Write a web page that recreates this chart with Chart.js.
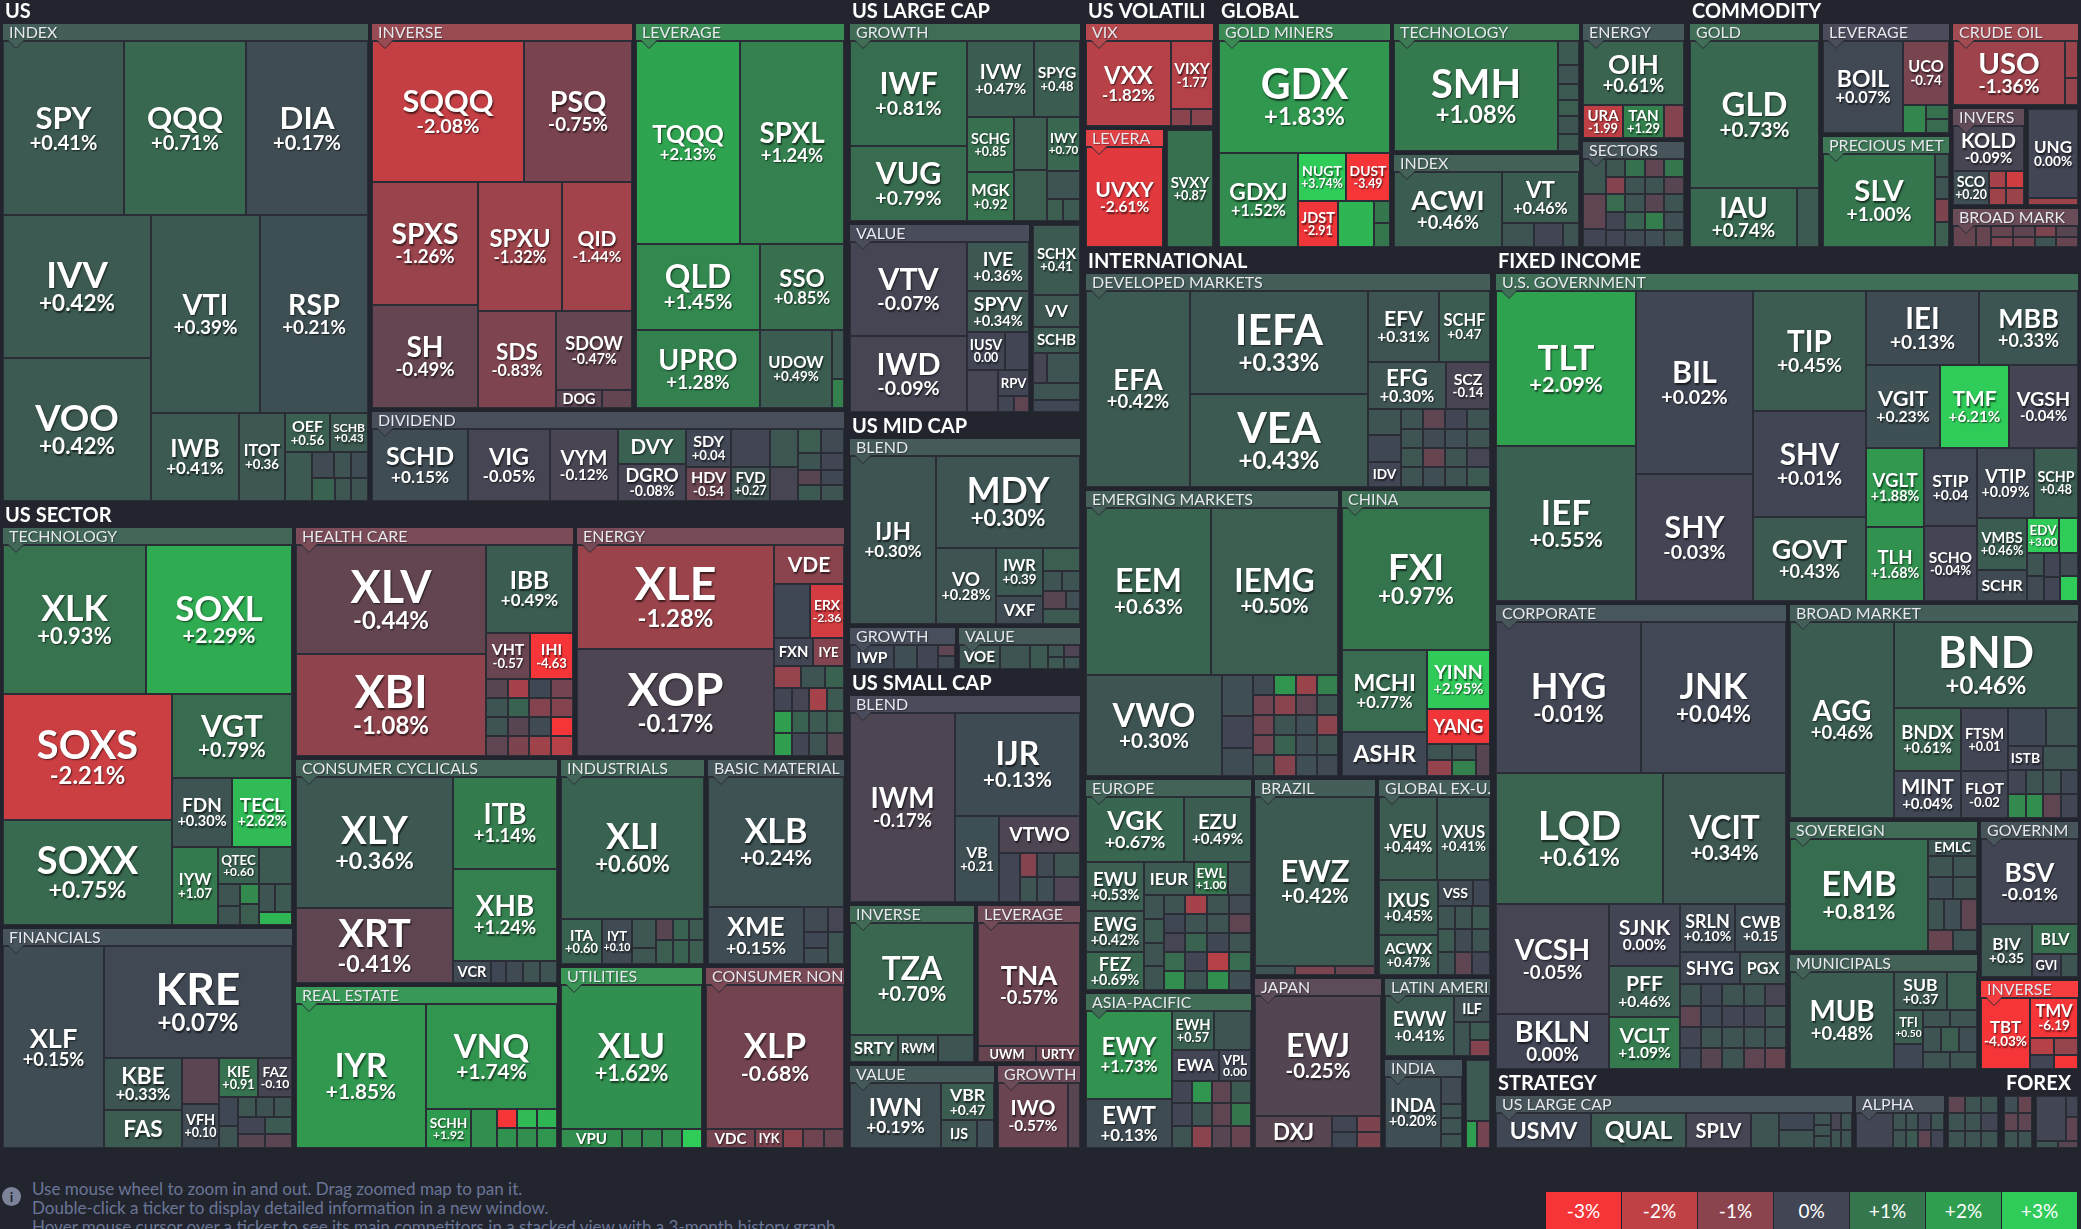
<!DOCTYPE html>
<html>
<head>
<meta charset="utf-8">
<title>ETF map</title>
<script src="https://cdn.jsdelivr.net/npm/chart.js@4.4.0/dist/chart.umd.min.js"></script>
<style>
  html, body { margin: 0; padding: 0; background: #22252e; }
  body { width: 2081px; height: 1229px; overflow: hidden; position: relative; font-family: Lato, "Noto Sans", sans-serif; }
  #map { position: absolute; left: 0; top: 0; }
  #info { position: absolute; left: 32px; top: 1179px; color: #6b7597; font-size: 17px; line-height: 19px; white-space: nowrap; }
  #icon { position: absolute; left: 2px; top: 1187px; width: 19px; height: 19px; border-radius: 50%; background: #7d8499; color: #22252e; font: bold 14px Lato; text-align: center; line-height: 19px; }
  #legend { position: absolute; left: 1546px; top: 1192px; display: flex; gap: 1px; }
  #legend div { width: 75px; height: 37px; line-height: 37px; text-align: center; color: #fff; font-size: 19px; }
</style>
</head>
<body>
<canvas id="map" width="2081" height="1151"></canvas>
<div id="icon">i</div>
<div id="info">Use mouse wheel to zoom in and out. Drag zoomed map to pan it.<br>Double-click a ticker to display detailed information in a new window.<br>Hover mouse cursor over a ticker to see its main competitors in a stacked view with a 3-month history graph.</div>
<div id="legend"></div>
<script>
// tiles: [ticker, size weight, % change]  ('' = unlabeled small tile)

// ---- US
const usIndex = [
  ['SPY', 207, 0.41], ['QQQ', 208, 0.71], ['DIA', 208, 0.17],
  ['IVV', 209, 0.42], ['VOO', 208, 0.42], ['VTI', 213, 0.39], ['RSP', 211, 0.21],
  ['IWB', 76, 0.41], ['ITOT', 40, 0.36], ['OEF', 17, 0.56], ['SCHB', 14.4, 0.43],
  ['', 13, 0.40], ['', 5.9, 0.10], ['', 4.3, 0.30], ['', 4.6, 0.15], ['', 5.1, 0.60], ['', 3.7, 0.35], ['', 3.9, 0.30]
];
const usInverse = [
  ['SQQQ', 209, -2.08], ['PSQ', 150, -0.75], ['SPXS', 129, -1.26], ['SH', 107, -0.49],
  ['SPXU', 107, -1.32], ['QID', 89, -1.44], ['SDS', 74, -0.83], ['SDOW', 59, -0.47],
  ['DOG', 8, -0.35], ['', 5.4, -0.45]
];
const usLeverage = [
  ['TQQQ', 207, 2.13], ['SPXL', 209, 1.24], ['QLD', 104, 1.45], ['SSO', 71, 0.85],
  ['UPRO', 95, 1.28], ['UDOW', 55, 0.49], ['', 5.9, 0.40], ['', 3.5, 1.30]
];
const usDividend = [
  ['SCHD', 68, 0.15], ['VIG', 58, -0.05], ['VYM', 48, -0.12], ['DVY', 23, 0.55], ['DGRO', 25, -0.08],
  ['SDY', 17, 0.04], ['HDV', 15, -0.54], ['', 14.4, 0.00], ['FVD', 13.3, 0.27], ['', 10.3, 0.35], ['', 9.5, -0.10],
  ['', 5.5, 0.50], ['', 5.5, 0.10], ['', 3.7, 0.30], ['', 3.7, 0.00], ['', 3.4, -0.30], ['', 3.4, 0.05], ['', 3.7, 0.40], ['', 3.7, 0.30]
];

// ---- US SECTOR
const secTech = [
  ['XLK', 209, 0.93], ['SOXL', 213, 2.29], ['SOXS', 209, -2.21], ['SOXX', 174, 0.75], ['VGT', 99, 0.79],
  ['FDN', 41, 0.30], ['TECL', 41, 2.62], ['IYW', 35, 1.07], ['QTEC', 15, 0.60], ['', 12, 0.40],
  ['', 4.8, 0.30], ['', 4.2, 0.30], ['', 3.6, 1.50], ['', 3.8, 0.50], ['', 4.5, 0.30], ['', 4.5, 0.40], ['', 4.2, 2.50]
];
const secFinancials = [
  ['XLF', 201, 0.15], ['KRE', 206, 0.07], ['KBE', 40, 0.33], ['FAS', 29, 0.45], ['', 16.6, -0.35], ['VFH', 16, 0.10],
  ['KIE', 15, 0.91], ['FAZ', 13, -0.10], ['', 5.2, 0.05], ['', 4.1, 0.30],
  ['', 3.6, 0.35], ['', 3.6, 0.25], ['', 3.6, 0.30], ['', 4.3, 0.00], ['', 4.3, 0.40], ['', 3.8, -0.30], ['', 3.8, -0.35]
];
const secHealth = [
  ['XLV', 203, -0.44], ['XBI', 190, -1.08], ['IBB', 75, 0.49], ['VHT', 20, -0.57], ['IHI', 19, -4.63],
  ['', 4.1, -0.30], ['', 4.1, 0.30], ['', 4.1, 0.30], ['', 4.1, -0.40],
  ['', 4.1, -1.50], ['', 4.1, 0.60], ['', 4.1, -0.30], ['', 4.1, -0.80],
  ['', 4.1, 0.05], ['', 4.1, -0.90], ['', 4.1, 0.10], ['', 4.1, -1.40],
  ['', 4.1, -0.70], ['', 4.1, -0.90], ['', 4.1, -3.00], ['', 4.1, -1.80]
];
const secEnergy = [
  ['XLE', 201, -1.28], ['XOP', 207, -0.17], ['VDE', 27, -1.00], ['', 19, 0.05], ['ERX', 18, -2.36],
  ['FXN', 11, 0.00], ['IYE', 9, -0.90], ['', 5.7, -1.20], ['', 5, 0.30], ['', 4.2, 0.60],
  ['', 3.9, 0.00], ['', 3.9, -0.05], ['', 3.9, -1.50], ['', 3.9, 0.40],
  ['', 3.9, 2.00], ['', 3.9, 0.60], ['', 3.9, 0.40], ['', 3.9, 0.50],
  ['', 3.9, 2.00], ['', 3.9, 0.00], ['', 3.9, 0.30], ['', 3.9, -0.30]
];
const secCyclical = [
  ['XLY', 202, 0.36], ['XRT', 116, -0.41], ['ITB', 95, 1.14], ['XHB', 95, 1.24], ['VCR', 8.1, 0.10],
  ['', 3.3, 0.05], ['', 3.5, 0.10], ['', 3.7, 0.30], ['', 3.7, 0.30]
];
const secRealEstate = [
  ['IYR', 184, 1.85], ['VNQ', 135, 1.74], ['SCHH', 17.6, 1.92], ['', 9.8, 1.60],
  ['', 3.9, -3.00], ['', 3.9, 1.70], ['', 3.9, 2.60], ['', 3.9, 1.60], ['', 3.9, 2.50], ['', 3.9, 1.80]
];
const secIndustrials = [
  ['XLI', 199, 0.60], ['ITA', 18, 0.60], ['IYT', 13.3, 0.10], ['', 6.9, 0.35], ['', 3.7, 0.35],
  ['', 3.7, -0.30], ['', 4.1, 0.50], ['', 3.3, 0.60], ['', 3.6, 0.60], ['', 3.3, 0.40], ['', 3.6, 0.50]
];
const secMaterials = [
  ['XLB', 174, 0.24], ['XME', 54, 0.15], ['', 6, 0.10], ['', 4, -0.05], ['', 3.8, 0.05], ['', 3.8, 0.20], ['', 5.1, 0.30]
];
const secUtilities = [
  ['XLU', 198, 1.62], ['VPU', 11.6, 1.60], ['', 3.8, 1.50], ['', 3.8, 1.50], ['', 3.8, 1.60], ['', 3.8, 3.00]
];
const secStaples = [
  ['XLP', 197, -0.68], ['VDC', 9, -0.70], ['IYK', 5.2, -0.80], ['', 3.6, -1.00], ['', 3.8, -0.60], ['', 3.8, -0.50]
];

// ---- US LARGE / MID / SMALL CAP
const lcGrowth = [
  ['IWF', 120, 0.81], ['VUG', 86, 0.79], ['IVW', 50, 0.47], ['SPYG', 34, 0.48], ['SCHG', 26, 0.85], ['MGK', 23, 0.92],
  ['', 17, 0.50], ['', 16, 0.50], ['IWY', 18, 0.70], ['', 9.2, 0.30], ['', 3.6, 0.50], ['', 3.6, 0.40]
];
const lcValue = [
  ['VTV', 108, -0.07], ['IWD', 87, -0.09], ['IVE', 30, 0.36], ['SPYV', 25, 0.34], ['IUSV', 14, 0.00],
  ['', 9, 0.00], ['', 13, -0.05], ['RPV', 8, 0.00], ['', 2.4, 0.00], ['', 2.4, -0.40]
];
const lcBlend = [
  ['SCHX', 32, 0.41], ['VV', 15, 0.35], ['SCHB', 12, 0.40], ['', 4.2, -0.05], ['', 9.5, 0.30], ['', 7.8, 0.30], ['', 5.9, 0.05]
];
const mcBlend = [
  ['IJH', 141, 0.30], ['MDY', 130, 0.30], ['VO', 44, 0.28], ['IWR', 22, 0.39], ['VXF', 13, 0.10],
  ['', 8.1, 0.50], ['', 3.6, 0.30], ['', 3.6, 0.30], ['', 4.1, -0.30], ['', 2.5, 0.20], ['', 5.2, 0.40]
];
const mcGrowth = [['IWP', 10.5, 0.05], ['', 5.5, 0.20], ['', 5, 0.00], ['', 1.9, -0.40], ['', 2.1, 0.10]];
const mcValue = [['VOE', 9.8, 0.30], ['', 7.3, 0.30], ['', 4.3, 0.40], ['', 1.9, 0.35], ['', 1.9, -0.20], ['', 1.9, 0.40], ['', 1.9, 0.30]];
const scBlend = [
  ['IWM', 194, -0.17], ['IJR', 126, 0.13], ['VB', 37, 0.21], ['VTWO', 30, -0.17], ['', 10, 0.00],
  ['', 4.1, -0.90], ['', 4.1, 0.30], ['', 4.1, 0.10], ['', 4.1, 0.20], ['', 6.2, 0.30], ['', 6.2, -0.20]
];
const scInverse = [['TZA', 136, 0.70], ['SRTY', 12.7, 0.50], ['RWM', 10.8, 0.35], ['', 9.7, 0.30]];
const scLeverage = [['TNA', 123, -0.57], ['UWM', 9.1, -0.50], ['URTY', 6.9, -0.60]];
const scValue = [['IWN', 58, 0.19], ['VBR', 19, 0.47], ['IJS', 10, 0.30], ['', 4.5, 0.20]];
const scGrowth = [['IWO', 45, -0.57], ['', 7.7, -0.30]];

// ---- VOLATILITY / GLOBAL / COMMODITY
const volVix = [['VXX', 71, -1.82], ['VIXY', 28, -1.77], ['', 3.4, -1.00], ['', 3.6, -1.00]];
const volLeverage = [['UVXY', 76, -2.61]];
const volInverse = [['SVXY', 53, 0.87]];
const glMiners = [
  ['GDX', 189, 1.83], ['GDXJ', 74, 1.52], ['NUGT', 23, 3.74], ['DUST', 21, -3.49],
  ['JDST', 18, -2.91], ['', 16.5, 2.50], ['', 3.5, 1.00], ['', 3.8, 1.00]
];
const glTech = [['SMH', 177, 1.08], ['', 5, 0.40], ['', 3.8, 0.30], ['', 3.2, 0.40], ['', 3.4, 0.50], ['', 3.6, 0.30], ['', 3.4, 0.40]];
const glIndex = [['ACWI', 80, 0.46], ['VT', 39, 0.46], ['', 7.8, 0.30], ['', 7, 0.00], ['', 4, 0.30]];
const glEnergy = [['OIH', 64, 0.61], ['URA', 13, -1.99], ['TAN', 13.2, 1.29], ['', 6.3, -0.90]];
const glSectors = [
  ['', 7.7, 0.35], ['', 7.7, -0.40], ['', 4, 0.00],
  ['', 3.4, 0.35], ['', 3.4, 0.90], ['', 3.4, -0.40], ['', 3.4, 1.00],
  ['', 3.4, -0.90], ['', 3.4, 0.30], ['', 3.4, 0.30], ['', 3.4, -0.30],
  ['', 3.4, 0.80], ['', 3.4, 0.30], ['', 3.4, -0.30], ['', 3.4, 0.30],
  ['', 3.4, 0.00], ['', 3.4, 0.60], ['', 3.4, 1.20], ['', 3.4, 0.20],
  ['', 3.4, 0.00], ['', 3.4, 0.10], ['', 3.4, 0.20], ['', 3.4, 0.30]
];
const cmGold = [['GLD', 188, 0.73], ['IAU', 62, 0.74], ['', 13, 0.40]];
const cmLeverage = [['BOIL', 73, 0.07], ['UCO', 29, -0.74], ['', 6.2, 1.40], ['', 3.2, 0.90], ['', 3.2, 0.80]];
const cmPrecious = [['SLV', 103, 1.00], ['', 3.1, 0.40], ['', 2.9, 0.30], ['', 3.2, -0.80], ['', 3.4, 0.50]];
const cmCrude = [['USO', 71, -1.36], ['', 4.7, -1.30], ['', 3.4, -1.20]];
const cmInverse = [['KOLD', 32, -0.09], ['SCO', 12, 0.20], ['', 3, -1.50], ['', 3, -1.40], ['', 3, -2.30], ['', 3, -1.30]];
const cmGas = [['UNG', 44, 0.00], ['', 3.6, -1.30]];
const cmBroad = [
  ['', 5, -0.50], ['', 3.2, -0.50],
  ['', 2.3, -0.50], ['', 2.3, -0.40], ['', 2.3, -0.80], ['', 2.3, -0.30],
  ['', 2.3, -0.80], ['', 2.3, -0.60], ['', 2.3, 0.30], ['', 2.3, -0.50]
];

// ---- INTERNATIONAL
const intDeveloped = [
  ['EFA', 199, 0.42], ['IEFA', 181, 0.33], ['VEA', 162, 0.43], ['EFV', 49, 0.31], ['SCHF', 35.5, 0.47],
  ['EFG', 36, 0.30], ['SCZ', 20, -0.14], ['', 8.3, 0.30], ['', 8.6, 0.05], ['IDV', 7.9, 0.00],
  ['', 4.2, 0.30], ['', 4.2, 0.30], ['', 4.2, 0.35], ['', 4.2, 0.30],
  ['', 4.2, -0.40], ['', 4.2, 0.10], ['', 4.2, -0.50], ['', 4.2, 0.20],
  ['', 4.2, 0.00], ['', 4.2, 0.20], ['', 4.2, 0.30], ['', 4.2, 0.30],
  ['', 4.2, 0.30], ['', 4.2, 0.30], ['', 4.2, -0.05], ['', 4.2, 0.40]
];
const intEmerging = [
  ['EEM', 206, 0.63], ['IEMG', 208, 0.50], ['VWO', 135, 0.30], ['', 12.3, 0.20], ['', 9.6, 0.00], ['', 8.4, 0.15],
  ['', 4.2, 0.10], ['', 4.2, 1.80], ['', 4.2, -1.30], ['', 4.2, 1.30],
  ['', 4.2, -0.60], ['', 4.2, -1.00], ['', 4.2, -0.40], ['', 4.2, 0.30],
  ['', 4.2, -0.60], ['', 4.2, 0.30], ['', 4.2, 0.20], ['', 4.2, -1.00],
  ['', 4.2, -0.60], ['', 4.2, 0.60], ['', 4.2, 0.20], ['', 4.2, 0.30],
  ['', 4.2, 0.30], ['', 4.2, -0.90], ['', 4.2, 0.20], ['', 4.2, 0.10]
];
const intChina = [
  ['FXI', 207, 0.97], ['MCHI', 68, 0.77], ['ASHR', 37, 0.05], ['YINN', 36, 2.95], ['YANG', 21, -2.90],
  ['', 3.8, 0.30], ['', 3.8, -1.20], ['', 3.8, 0.30], ['', 3.8, 1.30], ['', 4.2, -0.30]
];
const intEurope = [
  ['VGK', 63, 0.67], ['EZU', 43, 0.49], ['EWU', 28, 0.53], ['EWG', 23, 0.42], ['FEZ', 22, 0.69],
  ['IEUR', 16, 0.40], ['EWL', 11, 1.00], ['', 7.3, 0.30],
  ['', 4.6, 0.30], ['', 4.6, 0.40], ['', 4.6, 0.30], ['', 4.6, 0.30],
  ['', 4.1, 0.30], ['', 4.1, 0.05], ['', 4.1, -0.05], ['', 4.1, 0.80], ['', 4.1, 1.60],
  ['', 4.1, -1.50], ['', 4.1, 0.30], ['', 4.1, 0.60], ['', 4.1, 0.00], ['', 4.1, 0.30],
  ['', 4.1, 0.30], ['', 4.1, 0.30], ['', 4.1, 0.05], ['', 4.1, -1.80], ['', 4.1, 1.60],
  ['', 4.1, 0.10], ['', 4.1, -0.40], ['', 4.1, 0.30], ['', 4.1, 0.80], ['', 4.1, 0.20]
];
const intAsia = [
  ['EWY', 74, 1.73], ['EWT', 42, 0.13], ['EWH', 16, 0.57], ['', 14, 0.30], ['EWA', 14, 0.00], ['VPL', 9.6, 0.00],
  ['', 4.3, 0.00], ['', 4.3, 0.00], ['', 4.3, 0.30],
  ['', 4.3, 1.80], ['', 4.3, 0.30], ['', 4.3, -1.00],
  ['', 4.3, -0.40], ['', 4.3, -0.40], ['', 4.3, -0.30],
  ['', 4.3, 0.40], ['', 4.3, 1.00], ['', 4.3, -0.50]
];
const intBrazil = [['EWZ', 200, 0.42], ['', 3.5, 0.30], ['', 3.5, -0.80], ['', 3.5, -0.50]];
const intGlobalEx = [
  ['VEU', 47, 0.44], ['VXUS', 43, 0.41], ['IXUS', 32, 0.45], ['ACWX', 23, 0.47], ['VSS', 9.1, 0.10], ['', 4.2, 0.05],
  ['', 3.9, 0.30], ['', 3.9, 0.40], ['', 3.9, 0.30],
  ['', 3.9, 0.30], ['', 3.9, 0.10], ['', 3.9, -0.40],
  ['', 3.9, 0.40], ['', 3.9, 0.30], ['', 3.9, 0.00]
];
const intJapan = [['EWJ', 150, -0.25], ['DXJ', 24, -0.30], ['', 4, 0.00], ['', 4, 0.05], ['', 3.7, -0.80], ['', 3.7, -0.80]];
const intLatam = [['EWW', 41, 0.41], ['ILF', 9.3, 0.20], ['', 5.3, 0.30], ['', 3.4, 0.40], ['', 3.2, -0.90]];
const intIndia = [['INDA', 39, 0.20], ['', 5.7, 0.10], ['', 3.1, 0.30], ['', 3.3, 0.30], ['', 3.1, 0.30]];
const intOther = [['', 14.3, 0.40], ['', 3, 2.00], ['', 3.2, -0.70]];

// ---- FIXED INCOME
const fiGovernment = [
  ['TLT', 213, 2.09], ['IEF', 213, 0.55], ['BIL', 211, 0.02], ['SHY', 146, -0.03],
  ['TIP', 132, 0.45], ['SHV', 117, 0.01], ['GOVT', 93, 0.43], ['IEI', 82, 0.13], ['MBB', 71, 0.33],
  ['VGIT', 61, 0.23], ['TMF', 57, 6.21], ['VGSH', 57, -0.04], ['VGLT', 45, 1.88], ['TLH', 42, 1.68],
  ['STIP', 40, 0.04], ['SCHO', 39, -0.04], ['VTIP', 39, 0.09], ['SCHP', 30, 0.48], ['VMBS', 26, 0.46],
  ['SCHR', 15.5, 0.10], ['EDV', 11, 3.00], ['', 6.5, 3.00],
  ['', 3.9, 0.30], ['', 4.1, 0.10], ['', 3.7, 0.00], ['', 3.8, 0.00], ['', 4.1, 0.10], ['', 4.3, 3.00]
];
const fiCorporate = [
  ['HYG', 216, -0.01], ['JNK', 216, 0.04], ['LQD', 216, 0.61], ['VCIT', 159, 0.34], ['VCSH', 123, -0.05],
  ['BKLN', 61, 0.00], ['SJNK', 43, 0.00], ['PFF', 36, 0.46], ['VCLT', 36, 1.09], ['SRLN', 26, 0.10],
  ['CWB', 24, 0.15], ['SHYG', 19, 0.05], ['PGX', 14.4, 0.30],
  ['', 4.4, 0.30], ['', 4.4, -0.40], ['', 4.4, 0.00], ['', 4.4, 0.05],
  ['', 4.4, 0.05], ['', 4.4, 0.05], ['', 4.4, 0.30], ['', 4.4, -0.30],
  ['', 4.4, 0.30], ['', 4.4, 0.00], ['', 4.4, 0.30], ['', 4.4, 0.30],
  ['', 4.4, 0.30], ['', 4.4, 0.00], ['', 4.4, 0.30], ['', 4.4, -0.40],
  ['', 4.4, -0.10], ['', 4.4, 0.30], ['', 4.4, 0.30], ['', 4.4, -0.50]
];
const fiBroad = [
  ['AGG', 202, 0.46], ['BND', 156, 0.46], ['BNDX', 41, 0.61], ['MINT', 31, 0.04], ['FTSM', 29, 0.01],
  ['FLOT', 22, -0.02], ['', 14, 0.05], ['', 12, 0.30], ['ISTB', 8.4, 0.00], ['', 8.4, 0.30],
  ['', 4.1, 0.00], ['', 4.1, 1.50], ['', 4.1, 0.30], ['', 4.1, 1.60],
  ['', 4.1, 0.30], ['', 4.1, -0.40], ['', 4.1, 0.05], ['', 4.1, 0.00]
];
const fiSovereign = [
  ['EMB', 153, 0.81], ['EMLC', 8.2, 0.30], ['', 5, 0.30], ['', 5, 0.30], ['', 5, 0.20], ['', 5, 0.30],
  ['', 5, 0.30], ['', 5, 0.20], ['', 5, -0.40], ['', 5, -0.50], ['', 5, 0.30]
];
const fiMuni = [
  ['MUB', 99, 0.48], ['SUB', 20, 0.37], ['', 11, 0.50], ['TFI', 9.6, 0.50], ['', 7.3, 0.05],
  ['', 4.4, 0.30], ['', 4.4, 0.30], ['', 4.4, 0.30], ['', 4.4, 0.50], ['', 4.4, 0.20], ['', 4.4, 0.30], ['', 4.4, 0.30]
];
const fiGovtOther = [['BSV', 81, -0.01], ['BIV', 27, 0.35], ['BLV', 14, 0.80], ['GVI', 6.7, 0.00], ['', 3.9, 0.30]];
const fiInverse = [['TBT', 34, -4.03], ['TMV', 19, -6.19], ['', 4.1, -1.80], ['', 3.4, 0.00], ['', 3.9, -1.20], ['', 3.2, -3.00]];

// ---- STRATEGY / FOREX
const stLargeCap = [
  ['USMV', 34, 0.05], ['QUAL', 34, 0.40], ['SPLV', 23, -0.05], ['', 10, 0.30],
  ['', 6.3, 0.05], ['', 6.3, 0.30], ['', 2, 0.30], ['', 2, 0.30], ['', 2, 0.30],
  ['', 1.8, -0.10], ['', 1.8, 0.30], ['', 2, 0.30], ['', 2, 0.30]
];
const stAlpha = [['', 13, 0.00], ['', 2.3, 0.30], ['', 2.3, 0.30], ['', 2.3, 0.30], ['', 2.3, 0.40], ['', 2.3, 0.00], ['', 2.3, -0.40], ['', 2.3, 0.30], ['', 2.3, 0.00]];
const stOther = [['', 2.9, -0.40], ['', 2.9, 0.30], ['', 2.9, 0.30], ['', 2.9, 0.30], ['', 2.9, 0.30], ['', 2.9, 0.30], ['', 2.9, 0.30], ['', 2.9, 0.00], ['', 2.9, 0.30]];
const fxMajor = [['', 2.5, 0.20], ['', 2.5, -0.40], ['', 2.5, 0.30], ['', 2.5, -0.50], ['', 2.5, -0.40], ['', 2.5, 0.30]];
const fxOther = [['', 13, 0.00], ['', 2.6, 0.00], ['', 2.9, -0.40], ['', 1.6, 0.30], ['', 1.5, -0.30]];

// colour scale
const scaleSteps = [-3, -2, -1, 0, 1, 2, 3];
const scaleLabels = ['-3%', '-2%', '-1%', '0%', '+1%', '+2%', '+3%'];
const scaleColors = ['#f63538', '#bf4045', '#8b444e', '#414554', '#35764e', '#2f9e4f', '#30cc5a'];

const MAP_W = 2081, MAP_H = 1151;
const GH = 17, SH = 21, GP = 2, SP = 1;

function hexRgb(h) { return [1, 3, 5].map(i => parseInt(h.slice(i, i + 2), 16)); }
function rgbFor(v) {
  v = Math.max(-3, Math.min(3, v));
  const i = Math.min(5, Math.floor(v + 3));
  const t = v + 3 - i;
  const a = hexRgb(scaleColors[i]), b = hexRgb(scaleColors[i + 1]);
  return a.map((c, j) => Math.round(c + (b[j] - c) * t));
}
function colorFor(v, lift = 0) {
  const c = rgbFor(v).map(x => Math.round(x + (255 - x) * lift));
  return `rgb(${c.join(',')})`;
}

// layout tree helpers
function expand(pat, tiles, cur) {
  const node = { d: pat[0], c: [] };
  pat.slice(1).forEach(it => {
    if (typeof it === 'number') {
      for (let i = 0; i < it; i++) node.c.push({ tile: tiles[cur.i++] });
    } else {
      node.c.push(expand(it, tiles, cur));
    }
  });
  return node;
}
function G(name, tiles, pat) {
  const cur = { i: 0 };
  const child = expand(pat, tiles, cur);
  if (cur.i !== tiles.length) console.warn('tile count mismatch', name, cur.i, tiles.length);
  let sw = 0, sc = 0;
  tiles.forEach(t => { sw += t[1]; sc += t[1] * t[2]; });
  return { g: name, child, avg: sc / sw };
}
const S = (name, child) => ({ s: name, child });
const H = (...c) => ({ d: 'h', c });
const V = (...c) => ({ d: 'v', c });

const root = H(
  V(
    S('US', H(
      G('INDEX', usIndex, ['v', ['h', 3], ['h', ['v', 2], ['v', ['h', 2], ['h', 2, ['v', ['h', 2], ['h', 1, ['v', ['h', 3], ['h', 3]]]]]]]]),
      V(
        H(
          G('INVERSE', usInverse, ['v', ['h', 2], ['h', ['v', 2], ['v', ['h', 2], ['h', 1, ['v', 1, ['h', 2]]]]]]),
          G('LEVERAGE', usLeverage, ['v', ['h', 2], ['h', 2], ['h', 2, ['v', 2]]])
        ),
        G('DIVIDEND', usDividend, ['h', 3, ['v', 2], ['v', 2], ['v', 2], ['v', 2], ['v', ['h', 2], ['h', 2], ['h', 2], ['h', 2]]])
      )
    )),
    S('US SECTOR', H(
      V(
        G('TECHNOLOGY', secTech, ['v', ['h', 2], ['h', ['v', 2], ['v', 1, ['h', 2], ['h', 1, ['v', ['h', 2], ['h', ['v', 2], ['v', 2], ['v', ['h', 2], 1]]]]]]]),
        G('FINANCIALS', secFinancials, ['h', 1, ['v', 1, ['h', ['v', 2], ['v', 2], ['v', ['h', 2], ['h', ['v', 2], ['v', ['h', 3], ['h', 2], ['h', 2]]]]]]])
      ),
      V(
        H(
          G('HEALTH CARE', secHealth, ['h', ['v', 2], ['v', 1, ['h', 2], ['h', ['v', 4], ['v', 4], ['v', 4], ['v', 4]]]]),
          G('ENERGY', secEnergy, ['h', ['v', 2], ['v', 1, ['h', 2], ['h', 2], ['h', 3], ['h', 4], ['h', 4], ['h', 4]]])
        ),
        H(
          V(
            G('CONSUMER CYCLICALS', secCyclical, ['h', ['v', 2], ['v', 2, ['h', 5]]]),
            G('REAL ESTATE', secRealEstate, ['h', 1, ['v', 1, ['h', 2, ['v', 2], ['v', 2], ['v', 2]]]])
          ),
          V(
            H(
              G('INDUSTRIALS', secIndustrials, ['v', 1, ['h', 2, ['v', 2], ['v', 2], ['v', 2], ['v', 2]]]),
              G('BASIC MATERIAL', secMaterials, ['v', 1, ['h', 1, ['v', ['h', 2], ['h', ['v', 2], 1]]]])
            ),
            H(
              G('UTILITIES', secUtilities, ['v', 1, ['h', 5]]),
              G('CONSUMER NON-', secStaples, ['v', 1, ['h', 5]])
            )
          )
        )
      )
    ))
  ),
  V(
    S('US LARGE CAP', V(
      G('GROWTH', lcGrowth, ['h', ['v', 2], ['v', ['h', 2], ['h', ['v', 2], ['v', 2], ['v', 2, ['h', 2]]]]]),
      H(
        G('VALUE', lcValue, ['h', ['v', 2], ['v', 2, ['h', 2], ['h', 1, ['v', 1, ['h', 2]]]]]),
        G('', lcBlend, ['v', 3, ['h', 2], 2])
      )
    )),
    S('US MID CAP', V(
      G('BLEND', mcBlend, ['h', 1, ['v', 1, ['h', 1, ['v', 2], ['v', 1, ['h', 2], ['h', 2], 1]]]]),
      H(
        G('GROWTH', mcGrowth, ['h', 3, ['v', 2]]),
        G('VALUE', mcValue, ['h', 3, ['v', ['h', 2], ['h', 2]]])
      )
    )),
    S('US SMALL CAP', V(
      G('BLEND', scBlend, ['h', 1, ['v', 1, ['h', 1, ['v', 1, ['h', 1, ['v', 2], ['v', 2], ['v', 2]]]]]]),
      H(
        G('INVERSE', scInverse, ['v', 1, ['h', 3]]),
        G('LEVERAGE', scLeverage, ['v', 1, ['h', 2]])
      ),
      H(
        G('VALUE', scValue, ['h', 1, ['v', 1, ['h', 2]]]),
        G('GROWTH', scGrowth, ['h', 2])
      )
    ))
  ),
  V(
    H(
      S('US VOLATILI', V(
        G('VIX', volVix, ['h', 1, ['v', 1, ['h', 2]]]),
        H(
          G('LEVERA', volLeverage, ['h', 1]),
          G('', volInverse, ['h', 1])
        )
      )),
      S('GLOBAL', H(
        G('GOLD MINERS', glMiners, ['v', 1, ['h', 1, ['v', ['h', 2], ['h', 2, ['v', 2]]]]]),
        V(
          G('TECHNOLOGY', glTech, ['h', 1, ['v', 6]]),
          G('INDEX', glIndex, ['h', 1, ['v', 1, ['h', 3]]])
        ),
        V(
          G('ENERGY', glEnergy, ['v', 1, ['h', 3]]),
          G('SECTORS', glSectors, ['h', ['v', 3], ['v', ['h', 4], ['h', 4], ['h', 4], ['h', 4], ['h', 4]]])
        )
      )),
      S('COMMODITY', H(
        G('GOLD', cmGold, ['v', 1, ['h', 2]]),
        V(
          G('LEVERAGE', cmLeverage, ['h', 1, ['v', 1, ['h', 1, ['v', 2]]]]),
          G('PRECIOUS MET', cmPrecious, ['h', 1, ['v', 4]])
        ),
        V(
          G('CRUDE OIL', cmCrude, ['h', 1, ['v', 2]]),
          H(
            G('INVERS', cmInverse, ['v', 1, ['h', 1, ['v', 2], ['v', 2]]]),
            G('', cmGas, ['v', 2])
          ),
          G('BROAD MARK', cmBroad, ['h', 2, ['v', ['h', 4], ['h', 4]]])
        )
      ))
    ),
    H(
      S('INTERNATIONAL', V(
        G('DEVELOPED MARKETS', intDeveloped, ['h', 1, ['v', 2], ['v', ['h', 2], ['h', 2], ['h', ['v', 3], ['v', 4], ['v', 4], ['v', 4], ['v', 4]]]]),
        H(
          G('EMERGING MARKETS', intEmerging, ['v', ['h', 2], ['h', 1, ['v', 3], ['v', ['h', 4], ['h', 4], ['h', 4], ['h', 4], ['h', 4]]]]),
          G('CHINA', intChina, ['v', 1, ['h', ['v', 2], ['v', 2, ['h', ['v', 2], ['v', 2], 1]]]])
        ),
        H(
          V(
            G('EUROPE', intEurope, ['v', ['h', 2], ['h', ['v', 3], ['v', ['h', 3], ['h', ['v', 4], ['v', 5], ['v', 5], ['v', 5], ['v', 5]]]]]),
            G('ASIA-PACIFIC', intAsia, ['h', ['v', 2], ['v', ['h', 2], ['h', 2], ['h', ['v', 3], ['v', 3], ['v', 3], ['v', 3]]]])
          ),
          V(
            H(
              G('BRAZIL', intBrazil, ['v', 1, ['h', 3]]),
              G('GLOBAL EX-U.', intGlobalEx, ['v', ['h', 2], ['h', ['v', 2], ['v', ['h', 2], ['h', ['v', 3], ['v', 3], ['v', 3]]]]])
            ),
            H(
              G('JAPAN', intJapan, ['v', 1, ['h', 1, ['v', 2], ['v', 2]]]),
              V(
                G('LATIN AMERI', intLatam, ['h', 1, ['v', 1, ['h', 1, ['v', 2]]]]),
                H(
                  G('INDIA', intIndia, ['h', 1, ['v', 4]]),
                  G('', intOther, ['v', 1, ['h', 2]])
                )
              )
            )
          )
        )
      )),
      V(
        S('FIXED INCOME', V(
          G('U.S. GOVERNMENT', fiGovernment, ['h', ['v', 2], ['v', 2], ['v', 3], ['v', ['h', 2], ['h', 3], ['h', ['v', 2], ['v', 2], ['v', ['h', 2], ['h', ['v', 2], ['v', ['h', 2], ['h', ['v', 2], ['v', 2], ['v', 2]]]]]]]]),
          H(
            G('CORPORATE', fiCorporate, ['v', ['h', 2], ['h', 2], ['h', ['v', 2], ['v', 3], ['v', ['h', 2], ['h', 2], ['h', ['v', 4], ['v', 4], ['v', 4], ['v', 4], ['v', 4]]]]]),
            V(
              G('BROAD MARKET', fiBroad, ['h', 1, ['v', 1, ['h', ['v', 2], ['v', 2], ['v', ['h', 2], ['h', 2], ['h', ['v', 2], ['v', 2], ['v', 2], ['v', 2]]]]]]),
              H(
                V(
                  G('SOVEREIGN', fiSovereign, ['h', 1, ['v', 1, ['h', 2], ['h', 2], ['h', 3], ['h', 2]]]),
                  G('MUNICIPALS', fiMuni, ['h', 1, ['v', ['h', 2], ['h', ['v', 2], ['v', ['h', 2], ['h', 3], ['h', 2]]]]])
                ),
                V(
                  G('GOVERNM', fiGovtOther, ['v', 1, ['h', 1, ['v', 1, ['h', 2]]]]),
                  G('INVERSE', fiInverse, ['h', 1, ['v', 1, ['h', ['v', 2], ['v', 2]]]])
                )
              )
            )
          )
        )),
        H(
          S('STRATEGY', H(
            G('US LARGE CAP', stLargeCap, ['h', 4, ['v', 2], ['v', 3], ['v', 2], ['v', 2]]),
            G('ALPHA', stAlpha, ['h', 1, ['v', 2], ['v', 2], ['v', 2], ['v', 2]]),
            G('', stOther, ['h', ['v', 3], ['v', 3], ['v', 3]])
          )),
          S('FOREX', H(
            G('', fxMajor, ['h', ['v', 3], ['v', 3]]),
            G('', fxOther, ['v', ['h', 1, ['v', 2]], ['h', 2]])
          ))
        )
      )
    )
  )
);

function weight(n) {
  if (n._w == null) n._w = n.tile ? n.tile[1] : n.child ? weight(n.child) : n.c.reduce((a, k) => a + weight(k), 0);
  return n._w;
}
function fixH(n) {
  if (n.tile) return 0;
  if (n.g != null) return (n.g ? GH : 0) + 2 * GP + fixH(n.child);
  if (n.s != null) return SH + 2 * SP + fixH(n.child);
  if (n.d === 'v') return n.c.reduce((a, k) => a + fixH(k), 0);
  return n.c.reduce((a, k) => a + fixH(k) * weight(k), 0) / weight(n);
}
function fixW(n) {
  if (n.tile) return 0;
  if (n.g != null) return 2 * GP + fixW(n.child);
  if (n.s != null) return 2 * SP + fixW(n.child);
  if (n.d === 'h') return n.c.reduce((a, k) => a + fixW(k), 0);
  return n.c.reduce((a, k) => a + fixW(k) * weight(k), 0) / weight(n);
}
function place(n, x, y, w, h, out) {
  if (n.tile) { out.tiles.push({ x, y, w, h, t: n.tile }); return; }
  if (n.g != null) {
    x += GP; y += GP; w -= 2 * GP; h -= 2 * GP;
    const hh = n.g ? GH : 0;
    if (n.g) out.heads.push({ x, y, w, h: GH, name: n.g, avg: n.avg });
    place(n.child, x, y + hh, w, h - hh, out);
    return;
  }
  if (n.s != null) {
    x += SP; y += SP; w -= 2 * SP; h -= 2 * SP;
    out.secs.push({ x, y, w, h: SH, name: n.s });
    place(n.child, x, y + SH, w, h - SH, out);
    return;
  }
  const horiz = n.d === 'h';
  const fixed = n.c.map(k => horiz ? fixW(k) : fixH(k));
  const span = horiz ? w : h, cross = horiz ? h : w;
  const avail = Math.max(0, span - fixed.reduce((a, b) => a + b, 0));
  const need = n.c.map(k => weight(k) / Math.max(1, cross - (horiz ? fixH(k) : fixW(k))));
  const tot = need.reduce((a, b) => a + b, 0);
  let pos = horiz ? x : y;
  n.c.forEach((k, i) => {
    const len = fixed[i] + avail * need[i] / tot;
    if (horiz) place(k, pos, y, len, h, out); else place(k, x, pos, w, len, out);
    pos += len;
  });
}

function fmtChange(v, pct) {
  const s = v > 0 ? '+' + v.toFixed(2) : v.toFixed(2);
  return pct ? s + '%' : s;
}

function drawLabel(ctx, X, Y, W, Hh, t) {
  const tk = t[0];
  if (!tk) return;
  ctx.font = 'bold 100px Lato';
  const tw1 = ctx.measureText(tk).width / 100;
  const k = 0.85 - 0.25 * Math.min(1, Math.max(0, (W - 40) / 100));
  const fW = Math.min(k * W / tw1, 0.2 * W + 7, 60);
  const cfW = Math.min(0.95 * fW, 6 + 0.45 * fW, 24);
  const cx = X + W / 2, cy = Y + Hh / 2;
  ctx.fillStyle = '#ffffff';
  ctx.textAlign = 'center';
  ctx.textBaseline = 'alphabetic';
  ctx.shadowColor = 'rgba(0,0,0,0.6)';
  ctx.shadowOffsetX = 1; ctx.shadowOffsetY = 1.5; ctx.shadowBlur = 1.5;
  if (fW >= 10.5 && Hh >= 1.3 * fW + 0.8 * cfW + 2) {
    const f = Math.min(fW, 0.55 * Hh);
    let cf = Math.min(0.95 * f, 6 + 0.45 * f, 24);
    let txt = fmtChange(t[2], true);
    ctx.font = `bold ${cf}px Lato`;
    if (ctx.measureText(txt).width > W * 0.88) txt = fmtChange(t[2], false);
    const cw = ctx.measureText(txt).width;
    if (cw > W * 0.9) cf *= W * 0.9 / cw;
    const gap = 0.2 * f, block = 0.72 * f + gap + 0.72 * cf, top = cy - block / 2;
    ctx.font = `bold ${f}px Lato`;
    ctx.fillText(tk, cx, top + 0.72 * f);
    ctx.font = `bold ${cf}px Lato`;
    ctx.fillText(txt, cx, top + block);
  } else {
    const f = Math.min(k * W / tw1, 0.8 * Hh, 0.2 * W + 7);
    if (f >= 8) {
      ctx.font = `bold ${f}px Lato`;
      ctx.fillText(tk, cx, cy + 0.36 * f);
    }
  }
  ctx.shadowColor = 'transparent';
}

const treemapPlugin = {
  id: 'etfTreemap',
  beforeDraw(chart) {
    const { ctx, width, height } = chart;
    ctx.save();
    ctx.fillStyle = '#22252e';
    ctx.fillRect(0, 0, width, height);
    ctx.restore();
  },
  afterDraw(chart) {
    const { ctx, scales: { x, y } } = chart;
    const out = { tiles: [], heads: [], secs: [] };
    place(root, x.min, y.min, x.max - x.min, y.max - y.min, out);
    const box = r => {
      const x0 = Math.round(x.getPixelForValue(r.x)), x1 = Math.round(x.getPixelForValue(r.x + r.w));
      const y0 = Math.round(y.getPixelForValue(r.y)), y1 = Math.round(y.getPixelForValue(r.y + r.h));
      return [x0, y0, x1 - x0, y1 - y0];
    };
    ctx.save();
    out.tiles.forEach(r => {
      const [X, Y, W, Hh] = box(r);
      ctx.fillStyle = colorFor(r.t[2]);
      ctx.fillRect(X, Y, W, Hh);
      ctx.strokeStyle = '#2a2d36';
      ctx.lineWidth = 1;
      ctx.strokeRect(X + 0.5, Y + 0.5, W - 1, Hh - 1);
    });
    out.tiles.forEach(r => drawLabel(ctx, ...box(r), r.t));

    out.heads.forEach(hd => {
      const [X, Y, W] = box(hd);
      const hc = colorFor(hd.avg, 0.04);
      ctx.fillStyle = hc;
      ctx.fillRect(X, Y, W, GH);
      ctx.fillStyle = '#2a2d36';
      ctx.fillRect(X, Y + GH - 1, W, 1);
      if (W > 30) {
        ctx.beginPath();
        ctx.moveTo(X + 5, Y + GH - 1); ctx.lineTo(X + 13, Y + GH + 7); ctx.lineTo(X + 21, Y + GH - 1);
        ctx.closePath();
        ctx.fillStyle = hc; ctx.fill();
        ctx.beginPath();
        ctx.moveTo(X + 5, Y + GH - 0.5); ctx.lineTo(X + 13, Y + GH + 7.5); ctx.lineTo(X + 21, Y + GH - 0.5);
        ctx.strokeStyle = '#2a2d36'; ctx.lineWidth = 1; ctx.stroke();
      }
      ctx.save();
      ctx.beginPath(); ctx.rect(X, Y, W, GH); ctx.clip();
      ctx.font = '16px Lato';
      ctx.textAlign = 'left';
      ctx.fillStyle = '#e6e8ee';
      ctx.shadowColor = 'rgba(0,0,0,0.35)'; ctx.shadowOffsetY = 1; ctx.shadowBlur = 1;
      ctx.fillText(hd.name, X + 6, Y + 14);
      ctx.restore();
    });

    out.secs.forEach(sc => {
      const [X, Y, W] = box(sc);
      ctx.save();
      ctx.beginPath(); ctx.rect(X, Y, W, SH); ctx.clip();
      ctx.font = 'bold 20px Lato';
      ctx.textAlign = 'left';
      ctx.fillStyle = '#ffffff';
      ctx.fillText(sc.name, X + 4, Y + 17);
      ctx.restore();
    });
    ctx.restore();
  }
};

new Chart(document.getElementById('map'), {
  type: 'scatter',
  data: { datasets: [{ data: [] }] },
  options: {
    responsive: false,
    animation: false,
    devicePixelRatio: 1,
    events: [],
    layout: { padding: 0 },
    plugins: { legend: { display: false }, tooltip: { enabled: false } },
    scales: {
      x: { type: 'linear', min: 0, max: MAP_W, display: false },
      y: { type: 'linear', min: 0, max: MAP_H, reverse: true, display: false }
    }
  },
  plugins: [treemapPlugin]
});

const legend = document.getElementById('legend');
scaleSteps.forEach((s, i) => {
  const d = document.createElement('div');
  d.style.background = colorFor(s);
  d.textContent = scaleLabels[i];
  legend.appendChild(d);
});
</script>
</body>
</html>
